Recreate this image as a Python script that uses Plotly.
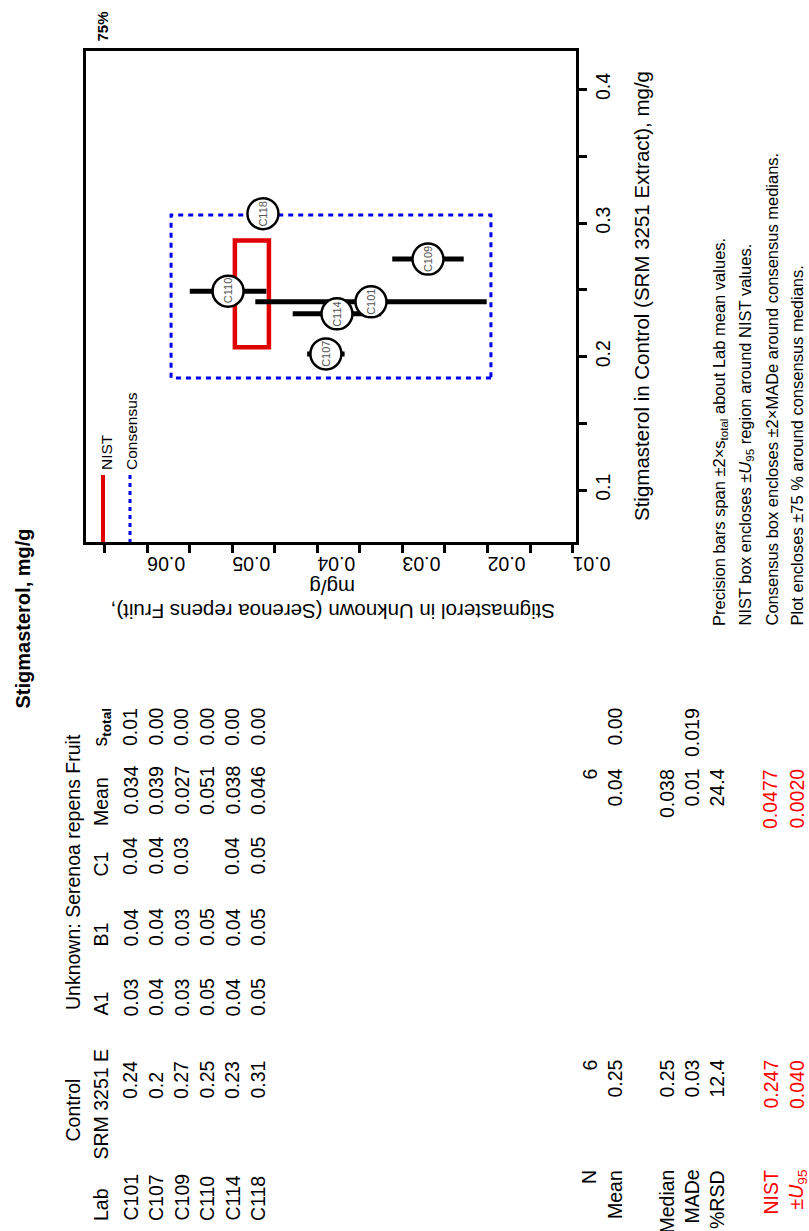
import plotly.graph_objects as go

# ---------------- data ----------------
labs = ["C101", "C107", "C109", "C110", "C114", "C118"]
control_val = [0.241, 0.202, 0.273, 0.249, 0.232, 0.307]      # Control (SRM 3251) lab values
unknown_mean = [0.0337, 0.0390, 0.0270, 0.0505, 0.0377, 0.0464]  # Unknown lab means
unknown_s = [0.0068, 0.0011, 0.0021, 0.00225, 0.0026, 0.0]      # s_total

ctrl_median, ctrl_made = 0.245, 0.0305
unk_median, unk_made = 0.0384, 0.0094
nist_ctrl, nist_ctrl_u = 0.247, 0.040
nist_unk, nist_unk_u = 0.0477, 0.0020

unk_ticks = [0.01, 0.02, 0.03, 0.04, 0.05, 0.06]
unk_ticktext = ["0.01", "0.02", "0.03", "0.04", "0.05", "0.06"]
unk_minor = [0.015, 0.025, 0.035, 0.045, 0.055, 0.065]
ctrl_ticks = [0.1, 0.2, 0.3, 0.4]
ctrl_ticktext = ["0.1", "0.2", "0.3", "0.4"]
ctrl_minor = [0.15, 0.25, 0.35]

tab_control = ["0.24", "0.2", "0.27", "0.25", "0.23", "0.31"]
tab_A1 = ["0.03", "0.04", "0.03", "0.05", "0.04", "0.05"]
tab_B1 = ["0.04", "0.04", "0.03", "0.05", "0.04", "0.05"]
tab_C1 = ["0.04", "0.04", "0.03", "", "0.04", "0.05"]
tab_mean = ["0.034", "0.039", "0.027", "0.051", "0.038", "0.046"]
tab_s = ["0.01", "0.00", "0.00", "0.00", "0.00", "0.00"]

sum_labels = ["N", "Mean", "Median", "MADe", "%RSD", "NIST", "±<i>U</i><sub>95</sub>"]
sum_control = ["6", "0.25", "0.25", "0.03", "12.4", "0.247", "0.040"]
sum_unknown = ["6", "0.04", "0.038", "0.01", "24.4", "0.0477", "0.0020"]
sum_extra = ["", "0.00", "", "0.019", "", "", ""]
sum_colors = ["black", "black", "black", "black", "black", "red", "red"]

footnotes = [
    "Precision bars span ±2×s<sub>total</sub> about Lab mean values.",
    "NIST box encloses ±<i>U</i><sub>95</sub> region around NIST values.",
    "Consensus box encloses ±2×MADe around consensus medians.",
    "Plot encloses ±75 % around consensus medians.",
]

# ---------------- layout geometry ----------------
W, H = 809, 1231
ML, MR, MT, MB = 86, 233, 51, 689
PW, PH = W - ML - MR, H - MT - MB
FONT = "Liberation Sans, Arial, Helvetica, sans-serif"

def P(x, y):
    return (x - ML) / PW, (H - MB - y) / PH

annotations = []

def txt(s, x, y, size=19.5, angle=-90, xa="center", ya="middle", color="black"):
    xp, yp = P(x, y)
    annotations.append(dict(text=s, x=xp, y=yp, xref="paper", yref="paper",
                            showarrow=False, textangle=angle, xanchor=xa, yanchor=ya,
                            borderpad=0, font=dict(size=size, color=color, family=FONT)))

fig = go.Figure()

# precision bars + lab points
fig.add_trace(go.Scatter(
    x=unknown_mean, y=control_val, mode="markers",
    marker=dict(size=31, color="white", line=dict(color="black", width=2.5)),
    error_x=dict(type="data", array=[2 * s for s in unknown_s], symmetric=True,
                 thickness=5, width=0, color="black"),
    hoverinfo="skip", cliponaxis=False))

for lab, xv, yv in zip(labs, unknown_mean, control_val):
    annotations.append(dict(text=lab, x=xv, y=yv, xref="x", yref="y", showarrow=False,
                            textangle=-90, font=dict(size=11, color="#555555", family=FONT)))

shapes = []
# consensus box
shapes.append(dict(type="rect", xref="x", yref="y", layer="below",
                   x0=unk_median - 2 * unk_made, x1=unk_median + 2 * unk_made,
                   y0=ctrl_median - 2 * ctrl_made, y1=ctrl_median + 2 * ctrl_made,
                   line=dict(color="#0000EE", width=3, dash="5px,5px")))
# NIST box
shapes.append(dict(type="rect", xref="x", yref="y", layer="below",
                   x0=nist_unk - nist_unk_u, x1=nist_unk + nist_unk_u,
                   y0=nist_ctrl - nist_ctrl_u, y1=nist_ctrl + nist_ctrl_u,
                   line=dict(color="#E00000", width=4.5)))
# legend samples
x0p, y0p = P(103, 475); _, y1p = P(103, 542)
shapes.append(dict(type="line", xref="paper", yref="paper", x0=x0p, x1=x0p, y0=y0p, y1=y1p,
                   line=dict(color="#E00000", width=4)))
x0p, _ = P(130, 475)
shapes.append(dict(type="line", xref="paper", yref="paper", x0=x0p, x1=x0p, y0=y0p, y1=y1p,
                   line=dict(color="#0000EE", width=3, dash="4px,4px")))

txt("NIST", 106, 471, size=15.5, ya="bottom")
txt("Consensus", 131, 471, size=15.5, ya="bottom")

# titles
txt("<b>Stigmasterol, mg/g</b>", 22, 618.5, size=20)
txt("<b>75%</b>", 102, 26.5, size=15)
txt("Stigmasterol in Control (SRM 3251 Extract), mg/g", 641, 296, size=20.5)
txt("Stigmasterol in Unknown (Serenoa repens Fruit),", 333, 611.5, size=20.5, angle=180)
txt("mg/g", 332, 588, size=20.5, angle=180)

# footnotes
for s, xx in zip(footnotes, [720, 745.5, 771, 796.5]):
    txt(s, xx, 627, size=16.5, ya="bottom")

# table headers
txt("Control", 72.5, 1110)
txt("Unknown: Serenoa repens Fruit", 72.5, 872.5)
hx = 100.5
txt("Lab", hx, 1222, ya="bottom")
txt("SRM 3251 E", hx, 1104)
txt("A1", hx, 1004)
txt("B1", hx, 935)
txt("C1", hx, 864)
txt("Mean", hx, 801.5)
txt("s<sub><b>total</b></sub>", hx, 727)

row_x = [130, 155.5, 181, 206.5, 232, 257.5]
for i, rx in enumerate(row_x):
    txt(labs[i], rx, 1222, ya="bottom")
    txt(tab_control[i], rx, 1100, ya="bottom")
    txt(tab_A1[i], rx, 997.5)
    txt(tab_B1[i], rx, 927.5)
    if tab_C1[i]:
        txt(tab_C1[i], rx, 856)
    txt(tab_mean[i], rx, 790.5)
    txt(tab_s[i], rx, 727)

sum_x = [589, 614.5, 666.5, 691.5, 716.5, 770, 796.5]
for i, sx in enumerate(sum_x):
    c = sum_colors[i]
    txt(sum_labels[i], sx, 1169, ya="top", color=c)
    txt(sum_control[i], sx, 1059, ya="top", color=c)
    txt(sum_unknown[i], sx, 768, ya="top", color=c)
    if sum_extra[i]:
        txt(sum_extra[i], sx, 707, ya="top", color=c)

fig.update_layout(
    width=W, height=H, margin=dict(l=ML, r=MR, t=MT, b=MB, pad=0),
    paper_bgcolor="white", plot_bgcolor="white", showlegend=False,
    font=dict(family=FONT, color="black"),
    shapes=shapes, annotations=annotations,
    xaxis=dict(range=[unk_median * 1.75, unk_median * 0.25], showgrid=False, zeroline=False,
               showline=True, linewidth=3, linecolor="black", mirror=True,
               ticks="outside", ticklen=8, tickwidth=2.5, tickcolor="black",
               tickmode="array", tickvals=unk_ticks, ticktext=unk_ticktext,
               tickangle=180, tickfont=dict(size=19.5, family=FONT),
               minor=dict(ticks="outside", tickvals=unk_minor, ticklen=8, tickwidth=2.5,
                          tickcolor="black", showgrid=False)),
    yaxis=dict(range=[ctrl_median * 0.25, ctrl_median * 1.75], side="right", showgrid=False,
               zeroline=False, showline=True, linewidth=3, linecolor="black", mirror=True,
               ticks="outside", ticklen=8, tickwidth=2.5, tickcolor="black",
               tickmode="array", tickvals=ctrl_ticks, ticktext=ctrl_ticktext,
               tickangle=-90, tickfont=dict(size=19.5, family=FONT),
               minor=dict(ticks="outside", tickvals=ctrl_minor, ticklen=8, tickwidth=2.5,
                          tickcolor="black", showgrid=False)),
)

fig.write_html("out.html")
